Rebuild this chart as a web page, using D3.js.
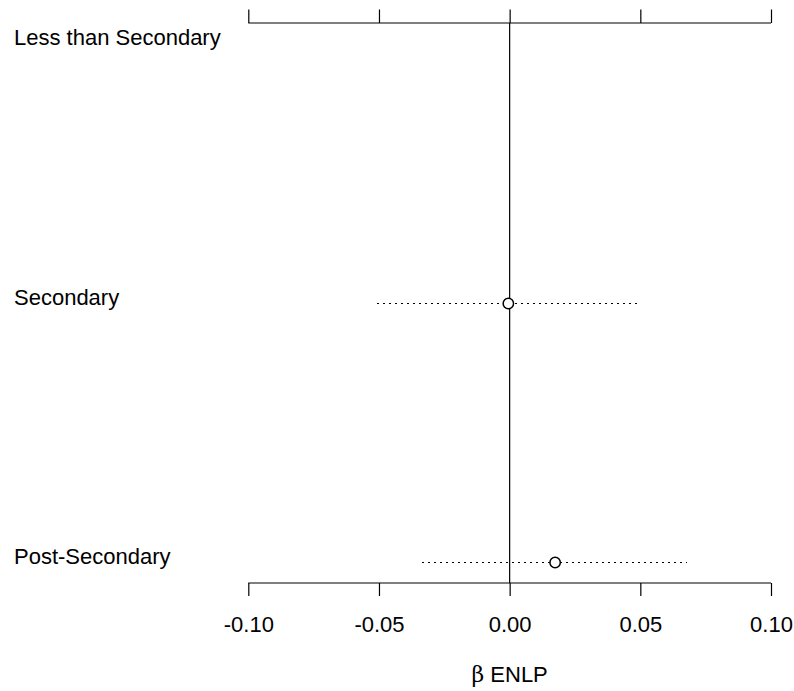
<!DOCTYPE html>
<html>
<head>
<meta charset="utf-8">
<script src="https://cdn.jsdelivr.net/npm/d3@7"></script>
<style>
  html, body { margin: 0; padding: 0; background: #fff; }
  svg { display: block; font-family: "Liberation Sans", Arial, sans-serif; }
</style>
</head>
<body>
<svg id="chart" width="794" height="691"></svg>
<script>
// Data
const categories = ["Less than Secondary", "Secondary", "Post-Secondary"];
const estimates = [null, -0.0005, 0.0174];
const lowerCI = [null, -0.0509, -0.0337];
const upperCI = [null, 0.0499, 0.0677];
const xTicks = [-0.10, -0.05, 0.00, 0.05, 0.10];
const xTickLabels = ["-0.10", "-0.05", "0.00", "0.05", "0.10"];
const xTitle = "ENLP";

const svg = d3.select("#chart");
const x = d3.scaleLinear().domain([-0.10, 0.10]).range([248.3, 771]);
const y = d3.scaleLinear().domain([0.92, 3.08]).range([23, 583]);

const fontSize = 22;

// Top axis (ticks upward, no labels)
const topAxis = d3.axisTop(x).tickValues(xTicks).tickSize(13.5).tickFormat("");
const gTop = svg.append("g").attr("transform", `translate(0,${y(0.92)})`).call(topAxis);
gTop.select(".domain").attr("d", `M${x(-0.10)},0H${x(0.10)}`);

// Bottom axis
const bottomAxis = d3.axisBottom(x).tickValues(xTicks).tickSize(13).tickPadding(20)
  .tickFormat((d, i) => xTickLabels[i]);
const gBot = svg.append("g").attr("transform", `translate(0,${y(3.08)})`).call(bottomAxis);
gBot.select(".domain").attr("d", `M${x(-0.10)},0H${x(0.10)}`);
[gTop, gBot].forEach(g => {
  g.selectAll("path, line").attr("stroke", "#000").attr("stroke-width", 1.2);
});
gBot.selectAll("text").attr("font-size", fontSize).attr("fill", "#000")
  .attr("font-family", "Liberation Sans, Arial, sans-serif")
  .attr("dy", null).attr("y", 48.5);

// Zero reference line
svg.append("line")
  .attr("x1", x(0)).attr("x2", x(0))
  .attr("y1", y(0.92)).attr("y2", y(3.08))
  .attr("stroke", "#000").attr("stroke-width", 1.2);

// Category labels
svg.selectAll("text.cat").data(categories).enter().append("text")
  .attr("class", "cat")
  .attr("x", 14)
  .attr("y", (d, i) => y(i + 1) + 1.5)
  .attr("font-size", fontSize)
  .attr("fill", "#000")
  .text(d => d);

const rows = categories.map((c, i) => ({ c, i, est: estimates[i], lo: lowerCI[i], hi: upperCI[i] }))
  .filter(d => d.est !== null);

// CIs
svg.selectAll("line.ci").data(rows).enter().append("line")
  .attr("class", "ci")
  .attr("x1", d => x(d.lo)).attr("x2", d => x(d.hi))
  .attr("y1", d => Math.round(y(d.i + 1)) + 0.5).attr("y2", d => Math.round(y(d.i + 1)) + 0.5)
  .attr("stroke", "#000").attr("stroke-width", 1.3)
  .attr("shape-rendering", "crispEdges")
  .attr("stroke-dasharray", "2,4");

// Points
svg.selectAll("circle.pt").data(rows).enter().append("circle")
  .attr("class", "pt")
  .attr("cx", d => x(d.est)).attr("cy", d => Math.round(y(d.i + 1)) + 0.5)
  .attr("r", 5.2)
  .attr("fill", "#fff")
  .attr("stroke", "#000").attr("stroke-width", 1.5);

// Axis title
const title = svg.append("text")
  .attr("x", x(0)).attr("y", 682)
  .attr("text-anchor", "middle")
  .attr("font-size", fontSize)
  .attr("fill", "#000");
title.append("tspan").attr("font-family", "DejaVu Serif, Liberation Serif, serif").text("β");
title.append("tspan").text(" " + xTitle);
</script>
</body>
</html>
